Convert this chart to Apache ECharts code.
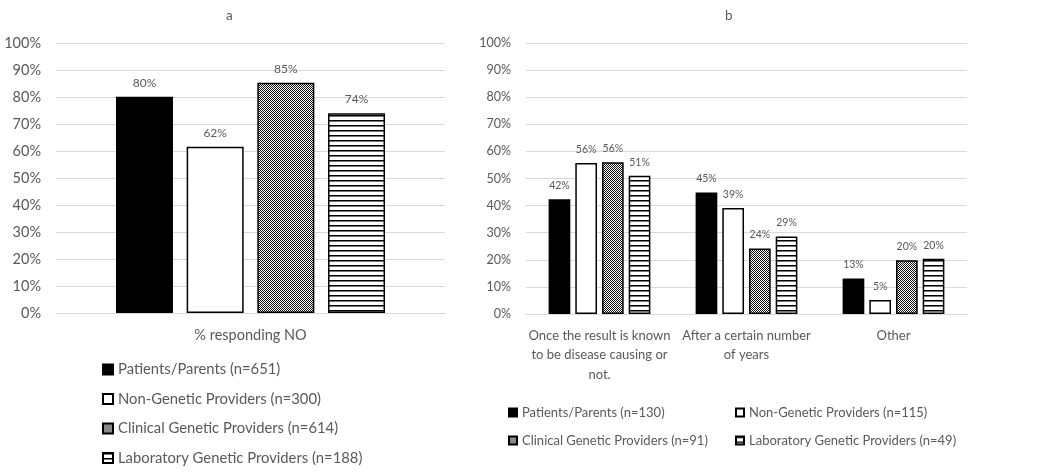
<!DOCTYPE html>
<html>
<head>
<meta charset="utf-8">
<script src="https://cdn.jsdelivr.net/npm/echarts@6/dist/echarts.min.js"></script>
<style>
  html, body { margin: 0; background: #fff; }
  #chart { width: 1050px; height: 472px; }
</style>
</head>
<body>
<div id="chart"></div>
<script>
// panel a
const groupsA = ['Patients/Parents (n=651)', 'Non-Genetic Providers (n=300)', 'Clinical Genetic Providers (n=614)', 'Laboratory Genetic Providers (n=188)']
const catsA = ['% responding NO']
const aPatients = [80.1]
const aNonGenetic = [61.6]
const aClinical = [85.3]
const aLab = [74.0]

// panel b
const groupsB = ['Patients/Parents (n=130)', 'Non-Genetic Providers (n=115)', 'Clinical Genetic Providers (n=91)', 'Laboratory Genetic Providers (n=49)']
const catsB = ['Once the result is known\nto be disease causing or\nnot.', 'After a certain number\nof years', 'Other']
const bPatients = [42.3, 44.8, 13.1]
const bNonGenetic = [55.7, 39.1, 5.2]
const bClinical = [56.0, 24.2, 19.8]
const bLab = [51.0, 28.6, 20.4]

const FONT = 'Lato'
const GREY = '#595959'

// fine 1px checkerboard, reads as mid grey
function checker() {
  const c = document.createElement('canvas')
  c.width = 2
  c.height = 2
  const g = c.getContext('2d')
  g.fillStyle = '#fff'
  g.fillRect(0, 0, 2, 2)
  g.fillStyle = '#111'
  g.fillRect(0, 0, 1, 1)
  g.fillRect(1, 1, 1, 1)
  return c
}

function hlines() {
  const c = document.createElement('canvas')
  c.width = 8
  c.height = 5
  const g = c.getContext('2d')
  g.fillStyle = '#fff'
  g.fillRect(0, 0, 8, 5)
  g.fillStyle = '#000'
  g.fillRect(0, 0, 8, 1)
  g.fillStyle = '#777'
  g.fillRect(0, 1, 8, 1)
  return c
}

const fills = [
  '#000',
  '#fff',
  { image: checker(), repeat: 'repeat' },
  { image: hlines(), repeat: 'repeat' }
]

function bar(name, data, fill, gridIdx, opts) {
  return {
    name: name,
    type: 'bar',
    xAxisIndex: gridIdx,
    yAxisIndex: gridIdx,
    data: data,
    barWidth: opts.barWidth,
    barGap: opts.barGap,
    itemStyle: {
      color: fill,
      borderColor: '#000',
      borderWidth: 1.5
    },
    label: {
      show: true,
      position: 'top',
      distance: 8,
      color: GREY,
      fontFamily: FONT,
      fontSize: opts.labelSize,
      formatter: p => Math.round(p.value) + '%'
    }
  }
}

function yAxis(gridIdx, size) {
  return {
    type: 'value',
    gridIndex: gridIdx,
    min: 0,
    max: 100,
    interval: 10,
    axisLine: { show: false },
    axisTick: { show: false },
    axisLabel: { formatter: '{value}%', color: GREY, fontFamily: FONT, fontSize: size, margin: 15 },
    splitLine: { lineStyle: { color: '#d9d9d9', width: 1 } }
  }
}

function xAxis(gridIdx, cats, size, lh) {
  return {
    type: 'category',
    gridIndex: gridIdx,
    data: cats,
    axisLine: { show: true, lineStyle: { color: '#d9d9d9', width: 1 } },
    axisTick: { show: false },
    axisLabel: { interval: 0, color: GREY, fontFamily: FONT, fontSize: size, lineHeight: lh, margin: 12 }
  }
}

const optA = { barWidth: 57, barGap: '24%', labelSize: 12 }
const optB = { barWidth: 21.7, barGap: '23%', labelSize: 10.5 }

const legendBase = {
  orient: 'vertical',
  icon: 'rect',
  textStyle: { color: GREY, fontFamily: FONT }
}

const chart = echarts.init(document.getElementById('chart'))
chart.setOption({
  animation: false,
  backgroundColor: '#fff',
  title: [
    { text: 'a', left: 221, top: 4, textStyle: { color: GREY, fontFamily: FONT, fontSize: 13.5, fontWeight: 'normal' } },
    { text: 'b', left: 720, top: 4, textStyle: { color: GREY, fontFamily: FONT, fontSize: 13.5, fontWeight: 'normal' } }
  ],
  grid: [
    { left: 56, top: 43, width: 389, height: 270 },
    { left: 526, top: 43, width: 441, height: 271 }
  ],
  xAxis: [xAxis(0, catsA, 14.5, 20), xAxis(1, catsB, 13, 19.5)],
  yAxis: [yAxis(0, 14.5), yAxis(1, 12.5)],
  legend: [
    Object.assign({}, legendBase, {
      left: 97, top: 357, itemWidth: 10, itemHeight: 10, itemGap: 14.5,
      data: groupsA,
      textStyle: { color: GREY, fontFamily: FONT, fontSize: 14.8 }
    }),
    Object.assign({}, legendBase, {
      left: 503, top: 401, itemWidth: 8, itemHeight: 8, itemGap: 15,
      data: [groupsB[0], groupsB[2]],
      textStyle: { color: GREY, fontFamily: FONT, fontSize: 13 }
    }),
    Object.assign({}, legendBase, {
      left: 730, top: 401, itemWidth: 8, itemHeight: 8, itemGap: 15,
      data: [groupsB[1], groupsB[3]],
      textStyle: { color: GREY, fontFamily: FONT, fontSize: 13 }
    })
  ],
  series: [
    bar(groupsA[0], aPatients, fills[0], 0, optA),
    bar(groupsA[1], aNonGenetic, fills[1], 0, optA),
    bar(groupsA[2], aClinical, fills[2], 0, optA),
    bar(groupsA[3], aLab, fills[3], 0, optA),
    bar(groupsB[0], bPatients, fills[0], 1, optB),
    bar(groupsB[1], bNonGenetic, fills[1], 1, optB),
    bar(groupsB[2], bClinical, fills[2], 1, optB),
    bar(groupsB[3], bLab, fills[3], 1, optB)
  ]
})
</script>
</body>
</html>
